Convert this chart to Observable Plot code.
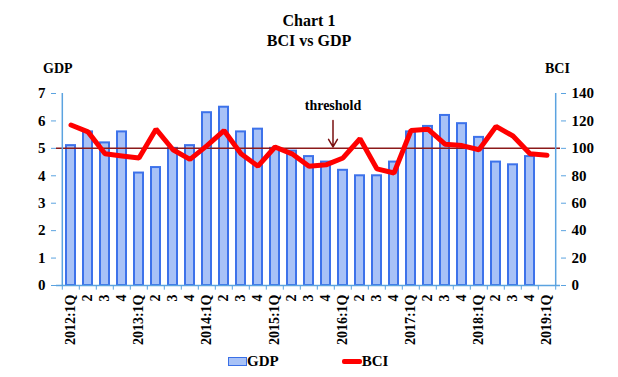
<!DOCTYPE html>
<html>
<head>
<meta charset="utf-8">
<script src="https://cdn.jsdelivr.net/npm/d3@7"></script>
<script src="https://cdn.jsdelivr.net/npm/@observablehq/plot@0.6"></script>
<style>
  html, body { margin: 0; padding: 0; background: #fff; }
  #wrap, #wrap * { font-family: "Liberation Serif", "Times New Roman", serif !important; font-weight: bold; }
  #wrap { position: relative; width: 618px; height: 377px; color: #000; }
  .abs { position: absolute; white-space: nowrap; }
  #title { left: 0; width: 618px; top: 11px; text-align: center; font-size: 16px; line-height: 20px; }
  svg { position: absolute; left: 0; top: 0; }
</style>
</head>
<body>
<div id="wrap">
  <div id="title" class="abs">Chart 1<br>BCI vs GDP</div>
  <div class="abs" style="left:43px; top:61px; font-size:14px;">GDP</div>
  <div class="abs" style="left:545px; top:61px; font-size:14px;">BCI</div>
  <div class="abs" style="left:228px; top:353px; font-size:15px; display:flex; align-items:center;">
    <span style="display:inline-block; width:17px; height:7px; background:#a8c2f7; border:1.5px solid #3a6fe6;"></span><span>GDP</span>
    <span style="display:inline-block; width:20px; height:5px; background:#ff0000; border-radius:2px; margin-left:63px;"></span><span>BCI</span>
  </div>
</div>
<script>
const quarters = ["2012Q1","2012Q2","2012Q3","2012Q4","2013Q1","2013Q2","2013Q3","2013Q4",
  "2014Q1","2014Q2","2014Q3","2014Q4","2015Q1","2015Q2","2015Q3","2015Q4",
  "2016Q1","2016Q2","2016Q3","2016Q4","2017Q1","2017Q2","2017Q3","2017Q4",
  "2018Q1","2018Q2","2018Q3","2018Q4","2019Q1"];
const tickLabels = ["2012:1Q","2","3","4","2013:1Q","2","3","4","2014:1Q","2","3","4",
  "2015:1Q","2","3","4","2016:1Q","2","3","4","2017:1Q","2","3","4","2018:1Q","2","3","4","2019:1Q"];
const gdp = [5.1,5.6,5.2,5.6, 4.1,4.3,5.0,5.1, 6.3,6.5,5.6,5.7, 5.0,4.9,4.7,4.5,
  4.2,4.0,4.0,4.5, 5.6,5.8,6.2,5.9, 5.4,4.5,4.4,4.7, null];
const bci = [117,112,96,94.5, 93,114,99,92, 102,113,96,87, 101,96,87,88,
  93,107,85,82, 113,114,103,102, 99,116,109,96, 95];
const threshold = 100;
const gdpTicks = [0,1,2,3,4,5,6,7];
const ratio = 20; // BCI axis = GDP axis x 20

const data = quarters.map((q, i) => ({q, gdp: gdp[i], bci: bci[i]}));
const labelOf = new Map(quarters.map((q, i) => [q, tickLabels[i]]));

const W = 618, H = 377, ML = 56, MR = 58, MT = 93, MB = 92;
const step = (W - ML - MR) / quarters.length;
const axisColor = "#5ba3e0";

const chart = Plot.plot({
  width: W, height: H,
  marginLeft: ML, marginRight: MR, marginTop: MT, marginBottom: MB,
  style: {fontFamily: "'Liberation Serif', serif", fontWeight: "bold", fontSize: "14px", background: "transparent", overflow: "visible"},
  x: {type: "band", domain: quarters, paddingInner: 0.48, paddingOuter: 0.24, label: null},
  y: {domain: [0, 7], label: null},
  marks: [
    Plot.barY(data.filter(d => d.gdp != null), {x: "q", y: "gdp", fill: "#a8c2f7", stroke: "#3d72ea", strokeWidth: 2}),
    Plot.ruleY([threshold / ratio], {stroke: "#8b1a1a", strokeWidth: 1.5}),
    Plot.line(data, {x: "q", y: d => d.bci / ratio, stroke: "#ff0000", strokeWidth: 5, strokeLinejoin: "miter"}),
    // threshold annotation
    Plot.text(["threshold"], {x: () => "2015Q4", y: 6.55, dx: 7, text: d => d, fontSize: 14, fill: "#000"}),
    Plot.arrow(["a"], {x1: () => "2015Q4", x2: () => "2015Q4", y1: 6.02, y2: 5.05, dx: 7, bend: 0, stroke: "#7a1010", strokeWidth: 1.5, headLength: 9}),
    // axis lines
    Plot.ruleY([0], {stroke: axisColor, strokeWidth: 1.5}),
    Plot.ruleX([quarters[0]], {y1: 0, y2: 7, dx: -step / 2, stroke: axisColor, strokeWidth: 1.5}),
    Plot.ruleX([quarters[quarters.length - 1]], {y1: 0, y2: 7, dx: step / 2, stroke: axisColor, strokeWidth: 1.5}),
    // x tick marks at band boundaries
    Plot.ruleX(quarters, {y1: 0, y2: -0.17, dx: -step / 2, stroke: axisColor, strokeWidth: 1}),
    Plot.ruleX([quarters[quarters.length - 1]], {y1: 0, y2: -0.17, dx: step / 2, stroke: axisColor, strokeWidth: 1}),
    Plot.axisX({tickSize: 0, tickPadding: 9, tickRotate: -90, tickFormat: d => labelOf.get(d), fontSize: 14, fill: "#000", label: null}),
    Plot.axisY({anchor: "left", ticks: gdpTicks, tickFormat: d => String(d), tickSize: 5, tickPadding: 6, stroke: axisColor, fill: "#000", fontSize: 15, label: null}),
    Plot.axisY({anchor: "right", ticks: gdpTicks, tickFormat: d => String(d * ratio), tickSize: 5, tickPadding: 6, stroke: axisColor, fill: "#000", fontSize: 15, label: null})
  ]
});
document.getElementById("wrap").prepend(chart);
</script>
</body>
</html>
